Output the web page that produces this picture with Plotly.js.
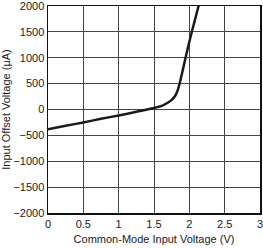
<!DOCTYPE html>
<html>
<head>
<meta charset="utf-8">
<script src="https://cdn.plot.ly/plotly-3.0.1.min.js"></script>
<style>html,body{margin:0;padding:0;background:#fff;}#chart{width:263px;height:248px;}</style>
</head>
<body>
<div id="chart"></div>
<script>
const voltage = [0, 0.25, 0.5, 0.75, 1.0, 1.25, 1.5, 1.6, 1.7, 1.75, 1.8, 1.84, 1.87, 1.9, 1.95, 2.0, 2.05, 2.1, 2.14];
const offset = [-380, -315, -250, -180, -115, -45, 30, 65, 135, 185, 265, 390, 540, 720, 1020, 1310, 1580, 1840, 2050];
const xTicks = [0, 0.5, 1, 1.5, 2, 2.5, 3];
const yTicks = [-2000, -1500, -1000, -500, 0, 500, 1000, 1500, 2000];

const font = {family: 'Liberation Sans, Arial, sans-serif', size: 11, color: '#1a1a1a'};
Plotly.newPlot('chart', [{
  x: voltage, y: offset, type: 'scatter', mode: 'lines',
  line: {color: '#1a1a1a', width: 2.5, shape: 'spline', smoothing: 0.6},
  hoverinfo: 'skip'
}], {
  width: 263, height: 248,
  margin: {l: 48, r: 3, t: 6, b: 35},
  paper_bgcolor: '#fff', plot_bgcolor: '#fff',
  showlegend: false,
  font: font,
  xaxis: {
    range: [0, 3], tickvals: xTicks, ticktext: xTicks.map(String),
    showgrid: true, gridcolor: '#444', gridwidth: 1,
    showline: true, linecolor: '#111', linewidth: 1.5, mirror: true,
    zeroline: false, ticks: '', ticklen: 0, tickfont: font,
    ticklabeloverflow: 'allow',
    title: {text: 'Common-Mode Input Voltage (V)', font: font, standoff: 6}
  },
  yaxis: {
    range: [-2000, 2000], tickvals: yTicks,
    showgrid: true, gridcolor: '#444', gridwidth: 1,
    showline: true, linecolor: '#111', linewidth: 1.5, mirror: true,
    zeroline: false, ticks: '', tickfont: font,
    ticklabeloverflow: 'allow',
    title: {text: 'Input Offset Voltage (µA)', font: font, standoff: 4}
  }
}, {staticPlot: true, displayModeBar: false});
</script>
</body>
</html>
